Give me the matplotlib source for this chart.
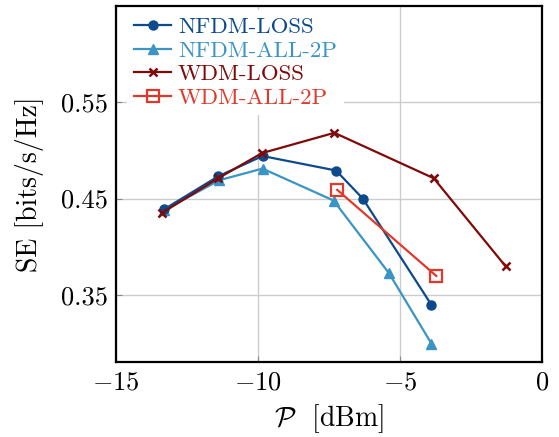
import matplotlib
matplotlib.use("Agg")
import matplotlib.pyplot as plt

plt.rcParams["font.family"] = "serif"
plt.rcParams["font.serif"] = ["cmr10"]
plt.rcParams["mathtext.fontset"] = "cm"
plt.rcParams["axes.formatter.use_mathtext"] = True

# power [dBm] and spectral efficiency [bits/s/Hz]
nfdm_loss_p = [-13.3, -11.4, -9.84, -7.25, -6.31, -3.89]
nfdm_loss_se = [0.439, 0.473, 0.494, 0.479, 0.450, 0.340]

nfdm_all_p = [-13.3, -11.36, -9.84, -7.34, -5.39, -3.89]
nfdm_all_se = [0.438, 0.469, 0.481, 0.448, 0.373, 0.300]

wdm_loss_p = [-13.39, -11.4, -9.86, -7.31, -3.81, -1.28]
wdm_loss_se = [0.435, 0.471, 0.497, 0.518, 0.471, 0.380]

wdm_all_p = [-7.21, -3.72]
wdm_all_se = [0.459, 0.370]

C_NL = "#0d4a8c"
C_NA = "#3a94c4"
C_WL = "#7f0a0a"
C_WA = "#e0392b"

fig = plt.figure(figsize=(5.59, 4.37), dpi=100)
ax = fig.add_axes([0.2075, 0.1716, 0.762, 0.8144])

ax.plot(nfdm_loss_p, nfdm_loss_se, color=C_NL, lw=1.6, marker="o", ms=6.5,
        label="NFDM-LOSS", zorder=4)
ax.plot(nfdm_all_p, nfdm_all_se, color=C_NA, lw=1.6, marker="^", ms=6.5,
        label="NFDM-ALL-2P", zorder=3)
ax.plot(wdm_loss_p, wdm_loss_se, color=C_WL, lw=1.6, marker="x", ms=6,
        mew=1.8, label="WDM-LOSS", zorder=5)
ax.plot(wdm_all_p, wdm_all_se, color=C_WA, lw=1.6, marker="s", ms=8,
        mfc="none", mew=1.6, label="WDM-ALL-2P", zorder=5)

ax.set_xlim(-15, 0)
ax.set_ylim(0.281, 0.649)
ax.set_xticks([-15, -10, -5, 0])
ax.set_yticks([0.35, 0.45, 0.55])
ax.set_yticklabels(["0.35", "0.45", "0.55"])
ax.grid(True, color="#cccccc", lw=1.0)
ax.set_axisbelow(True)
ax.tick_params(direction="in", length=4, color="#888888", labelsize=19, pad=6)
for sp in ax.spines.values():
    sp.set_linewidth(1.6)

ax.set_xlabel(r"$\mathcal{P}$  [dBm]", fontsize=20, labelpad=6)
ax.set_ylabel("SE [bits/s/Hz]", fontsize=20, labelpad=12)

leg = ax.legend(loc="upper left", bbox_to_anchor=(0.0, 1.02), fontsize=16.5,
                frameon=True, fancybox=False, edgecolor="none",
                framealpha=1.0, handlelength=1.6, handletextpad=0.3,
                labelspacing=0.15, borderpad=0.3)
for txt, c in zip(leg.get_texts(), [C_NL, C_NA, C_WL, C_WA]):
    txt.set_color(c)

fig.savefig("out.png", dpi=100)
